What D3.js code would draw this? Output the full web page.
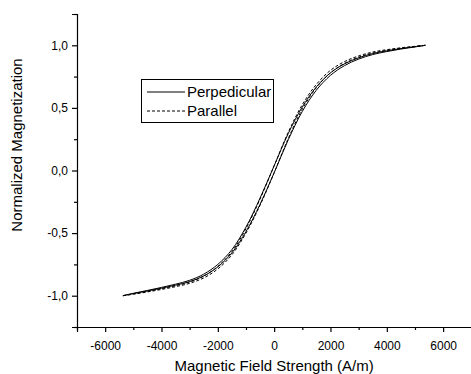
<!DOCTYPE html>
<html>
<head>
<meta charset="utf-8">
<script src="https://cdn.jsdelivr.net/npm/d3@7"></script>
<style>
  body { margin: 0; background: #fff; }
  text { font-family: Arial, "Liberation Sans", sans-serif; fill: #000; }
</style>
</head>
<body>
<div id="chart"></div>
<script>
// field values (A/m) shared by every branch
let fieldH = [-5370, -5000, -4500, -4000, -3500, -3000, -2500, -2000, -1500, -1000, -500, 0,
  500, 1000, 1500, 2000, 2500, 3000, 3500, 4000, 4500, 5000, 5370];

// perpendicular loop, descending and ascending branches
let perpDown = [-1.0, -0.981, -0.958, -0.934, -0.908, -0.877, -0.828, -0.750, -0.632, -0.452, -0.220, 0.038,
  0.295, 0.508, 0.668, 0.780, 0.852, 0.900, 0.934, 0.956, 0.974, 0.989, 1.0];
let perpUp = [-1.0, -0.983, -0.962, -0.940, -0.916, -0.887, -0.842, -0.770, -0.658, -0.488, -0.270, -0.018,
  0.245, 0.472, 0.642, 0.760, 0.838, 0.890, 0.926, 0.950, 0.970, 0.987, 1.0];

// parallel loop, descending and ascending branches
let parDown = [-1.0, -0.986, -0.966, -0.944, -0.920, -0.891, -0.844, -0.766, -0.647, -0.464, -0.228, 0.038,
  0.305, 0.526, 0.688, 0.800, 0.870, 0.915, 0.946, 0.965, 0.980, 0.992, 1.0];
let parUp = [-1.0, -0.988, -0.970, -0.950, -0.928, -0.901, -0.858, -0.786, -0.673, -0.500, -0.278, -0.018,
  0.255, 0.490, 0.662, 0.780, 0.856, 0.905, 0.938, 0.959, 0.976, 0.990, 1.0];

let xMajor = [-6000, -4000, -2000, 0, 2000, 4000, 6000];
let xMinor = [-7000, -5000, -3000, -1000, 1000, 3000, 5000, 7000];
let yMajor = [-1.0, -0.5, 0.0, 0.5, 1.0];
let yMinor = [-1.25, -0.75, -0.25, 0.25, 0.75, 1.25];
let legendLabels = ['Perpedicular', 'Parallel'];

let width = 471, height = 374;
let margin = {top: 14, left: 77, right: 0, bottom: 47};

let svg = d3.select('#chart')
  .append('svg')
    .attr('width', width)
    .attr('height', height);

let x = d3.scaleLinear()
  .domain([-7000, 7000])
  .range([margin.left, width - margin.right + 0.3]);

let y = d3.scaleLinear()
  .domain([-1.25, 1.25])
  .range([height - margin.bottom, margin.top]);

// Origin style labels: comma decimal, plain hyphen minus
let loc = d3.formatLocale({decimal: ',', thousands: '', grouping: [3], currency: ['', ''], minus: '-'});

// x axis, major + minor ticks
let gx = svg.append('g')
  .attr('transform', 'translate(0,' + y(-1.25) + ')');
gx.call(d3.axisBottom(x).tickValues(xMajor).tickSize(5).tickPadding(9).tickFormat(loc.format('d')))
  .style('font-size', '12px');
gx.append('g')
  .call(d3.axisBottom(x).tickValues(xMinor).tickSize(3).tickFormat(''))
  .select('.domain').remove();

// y axis
let gy = svg.append('g')
  .attr('transform', 'translate(' + x(-7000) + ',0)');
gy.call(d3.axisLeft(y).tickValues(yMajor).tickSize(5).tickPadding(4).tickFormat(loc.format('.1f')))
  .style('font-size', '12px');
gy.append('g')
  .call(d3.axisLeft(y).tickValues(yMinor).tickSize(3).tickFormat(''))
  .select('.domain').remove();

svg.selectAll('.domain, .tick line').attr('stroke', '#000').attr('stroke-width', 1.2);
svg.selectAll('.tick text').attr('fill', '#000').attr('font-family', 'Arial, "Liberation Sans", sans-serif');

// axis titles
svg.append('text')
  .attr('x', x(0))
  .attr('y', 371)
  .style('font-size', '15px')
  .style('text-anchor', 'middle')
  .text('Magnetic Field Strength (A/m)');

svg.append('text')
  .attr('transform', 'translate(22,145) rotate(-90)')
  .style('font-size', '15px')
  .style('text-anchor', 'middle')
  .text('Normalized Magnetization');

// curves
let line = d3.line()
  .x(function(d) {return x(d[0]);})
  .y(function(d) {return y(d[1]);})
  .curve(d3.curveCatmullRom.alpha(0.5));

let branches = [
  {vals: perpDown, dash: null},
  {vals: perpUp, dash: null},
  {vals: parDown, dash: '3,2'},
  {vals: parUp, dash: '3,2'}
];

branches.forEach(function(b) {
  svg.append('path')
    .datum(fieldH.map(function(h, i) {return [h, b.vals[i]];}))
    .attr('fill', 'none')
    .attr('stroke', '#000')
    .attr('stroke-width', 1)
    .attr('stroke-dasharray', b.dash)
    .attr('d', line);
});

// legend
let lg = svg.append('g');
lg.append('rect')
  .attr('x', 141.5).attr('y', 79.5)
  .attr('width', 132).attr('height', 43)
  .attr('fill', '#fff').attr('stroke', '#000').attr('stroke-width', 1);

legendLabels.forEach(function(label, i) {
  let ly = 92 + i * 19;
  lg.append('line')
    .attr('x1', 147).attr('x2', 185)
    .attr('y1', ly).attr('y2', ly)
    .attr('stroke', '#000').attr('stroke-width', 1)
    .attr('stroke-dasharray', i === 1 ? '3,2' : null);
  lg.append('text')
    .attr('x', 187).attr('y', ly + 5)
    .style('font-size', '15px')
    .text(label);
});
</script>
</body>
</html>
